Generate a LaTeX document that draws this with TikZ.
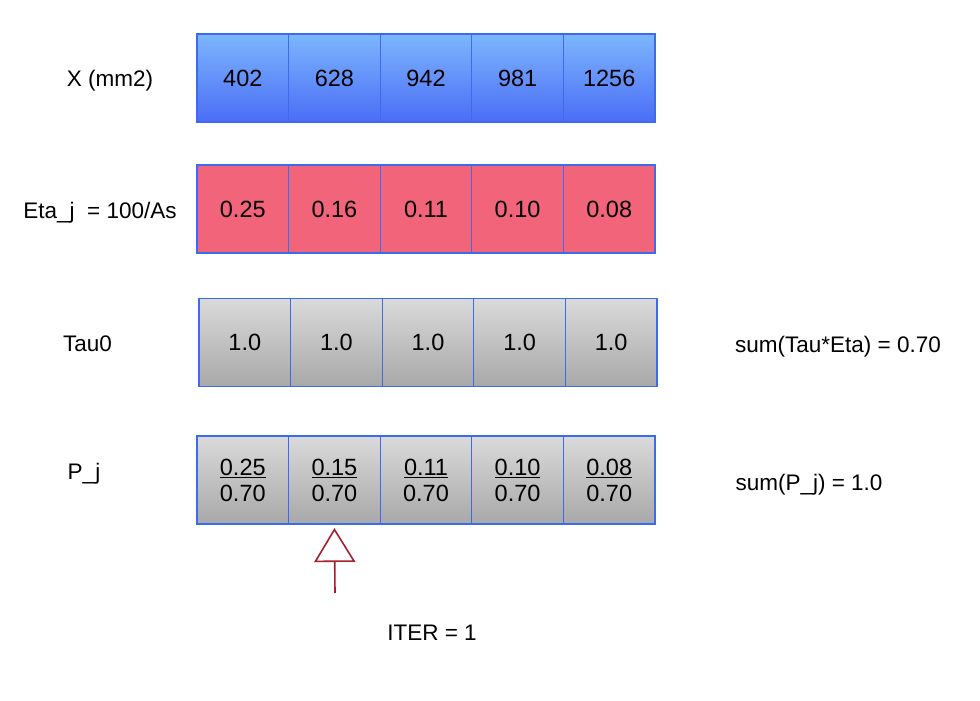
\documentclass[tikz,border=0pt]{standalone}
\usepackage{fontspec}
\setmainfont{Liberation Sans}
\usetikzlibrary{arrows.meta,positioning}
\definecolor{CellEdge}{HTML}{3D6BF0}
\definecolor{BlueTop}{HTML}{7CB6FD}
\definecolor{BlueBot}{HTML}{4B6DF6}
\definecolor{EtaFill}{HTML}{F16479}
\definecolor{GrayTop}{HTML}{DADADA}
\definecolor{GrayBot}{HTML}{A8A8A8}
\definecolor{IterRed}{HTML}{A3202C}

\begin{document}
\begin{tikzpicture}[
    x=1pt, y=-1pt,
    every node/.style={font={\fontsize{22.5}{26}\selectfont}},
    cell/.style={rectangle, minimum width=91.6pt, minimum height=88pt, inner sep=0pt, outer sep=0pt, align=center, font={\fontsize{23.5}{26}\selectfont}},
    xcell/.style={cell, top color=BlueTop, bottom color=BlueBot},
    etacell/.style={cell, fill=EtaFill},
    graycell/.style={cell, top color=GrayTop, bottom color=GrayBot},
    celledge/.style={draw=CellEdge, line width=1.3pt},
    iter/.style={draw=IterRed, line width=1.6pt, shorten >=4pt, -{Triangle[open, width=41pt, length=34pt]}}
  ]

  \useasboundingbox (0,0) rectangle (980,701);

  \foreach \v [count=\i] in {402,628,942,981,1256}
    \node[xcell] (x\i) at (151.2+91.6*\i, 78) {\v};

  \foreach \v [count=\i] in {0.25,0.16,0.11,0.10,0.08}
    \node[etacell] (eta\i) at (151.2+91.6*\i, 209) {\v};

  \foreach \i in {1,...,5}
    \node[graycell] (tau\i) at (153.2+91.6*\i, 342.5) {1.0};

  \foreach \v [count=\i] in {0.25,0.15,0.11,0.10,0.08}
    \node[graycell] (p\i) at (151.2+91.6*\i, 480) {\underline{\v}\\0.70};

  % cell borders on top of the fills
  \foreach \r in {x,eta,tau,p}
    \foreach \i in {1,...,5}
      \draw[celledge] (\r\i.north west) rectangle (\r\i.south east);

  \node (xlabel) at (110,80.5) {X (mm2)};
  \node (etalabel) at (100,213) {Eta\_j \ = 100/As};
  \node (taulabel) at (87.5,344) {Tau0};
  \node (plabel) at (84,474) {P\_j};

  \node (tausum) at (838,347) {sum(Tau*Eta) = 0.70};
  \node (psum) at (809,485) {sum(P\_j) = 1.0};

  \node (iterlabel) at (432,633) {ITER = 1};
  \coordinate (iterfoot) at (335,593);
  \draw[iter] (iterfoot) -- (p2.south);
\end{tikzpicture}
\end{document}
